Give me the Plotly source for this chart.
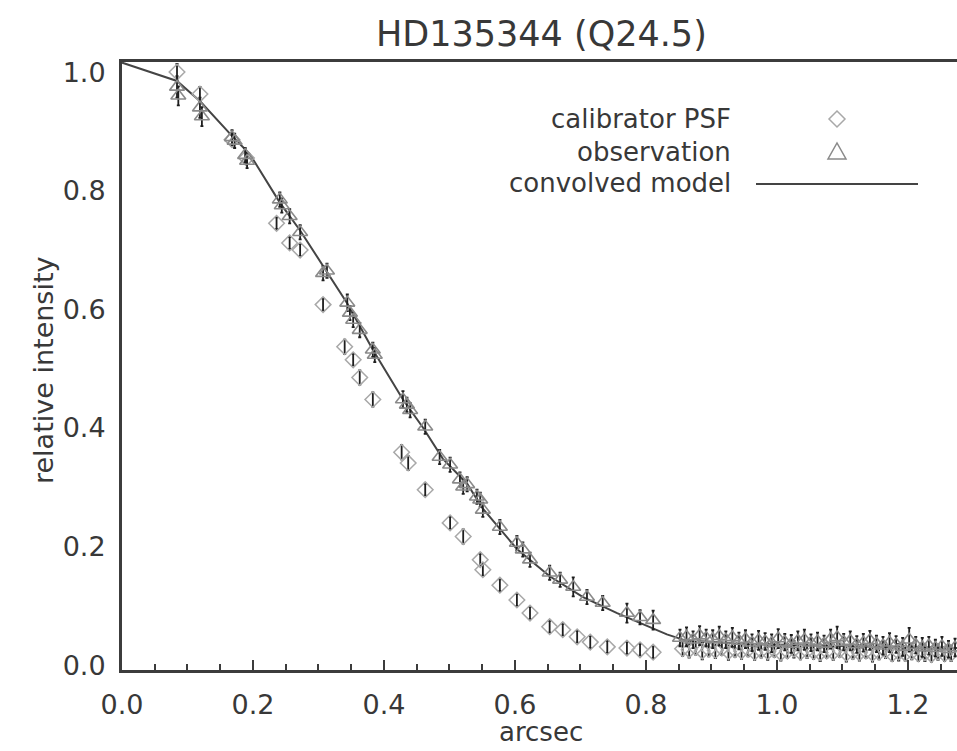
import plotly.graph_objects as go

# ---------------- data ----------------
model_x = [0.0, 0.084, 0.12, 0.17, 0.195, 0.241, 0.272, 0.313, 0.344, 0.383, 0.429,
           0.46, 0.49, 0.527, 0.551, 0.603, 0.653, 0.704, 0.756, 0.832, 0.86, 0.95,
           1.05, 1.15, 1.275]
model_y = [1.016, 0.985, 0.950, 0.890, 0.862, 0.780, 0.733, 0.662, 0.610, 0.532, 0.448,
           0.400, 0.348, 0.306, 0.264, 0.196, 0.150, 0.115, 0.088, 0.052, 0.042, 0.036,
           0.033, 0.031, 0.029]

obs_x = [0.084, 0.086, 0.119, 0.122, 0.168, 0.172, 0.188, 0.191, 0.241, 0.244, 0.256,
         0.272, 0.307, 0.313, 0.344, 0.348, 0.353, 0.363, 0.383, 0.386, 0.429, 0.435,
         0.44, 0.463, 0.485, 0.501, 0.516, 0.521, 0.527, 0.542, 0.547, 0.551, 0.577,
         0.603, 0.612, 0.623, 0.653, 0.669, 0.689, 0.71, 0.734, 0.771, 0.791, 0.811,
         0.852, 0.862, 0.872, 0.882, 0.892, 0.902, 0.912, 0.922, 0.932, 0.942, 0.952,
         0.962, 0.972, 0.982, 0.992, 1.002, 1.012, 1.022, 1.032, 1.042, 1.052, 1.062,
         1.072, 1.082, 1.092, 1.102, 1.112, 1.122, 1.132, 1.142, 1.152, 1.162, 1.172,
         1.182, 1.192, 1.202, 1.212, 1.222, 1.232, 1.242, 1.252, 1.262, 1.272]
obs_y = [0.975, 0.960, 0.940, 0.925, 0.890, 0.884, 0.860, 0.850, 0.785, 0.775, 0.757,
         0.730, 0.661, 0.665, 0.611, 0.594, 0.582, 0.565, 0.532, 0.523, 0.448, 0.439,
         0.430, 0.402, 0.351, 0.338, 0.313, 0.301, 0.305, 0.284, 0.279, 0.262, 0.233,
         0.206, 0.195, 0.178, 0.156, 0.144, 0.132, 0.115, 0.105, 0.088, 0.081, 0.076,
         0.046, 0.048, 0.043, 0.050, 0.046, 0.044, 0.049, 0.043, 0.047, 0.041, 0.044,
         0.038, 0.042, 0.040, 0.037, 0.045, 0.039, 0.036, 0.041, 0.043, 0.038, 0.040,
         0.036, 0.044, 0.047, 0.039, 0.041, 0.035, 0.038, 0.042, 0.036, 0.033, 0.038,
         0.035, 0.031, 0.043, 0.034, 0.030, 0.033, 0.029, 0.032, 0.027, 0.030]
obs_err = [0.018, 0.016, 0.017, 0.016, 0.012, 0.012, 0.012, 0.012, 0.012, 0.012, 0.012,
           0.012, 0.012, 0.012, 0.014, 0.012, 0.012, 0.012, 0.012, 0.012, 0.014, 0.012,
           0.012, 0.012, 0.012, 0.012, 0.012, 0.012, 0.012, 0.012, 0.012, 0.012, 0.012,
           0.012, 0.012, 0.012, 0.012, 0.012, 0.016, 0.012, 0.012, 0.016, 0.012, 0.016,
           0.014, 0.016, 0.014, 0.016, 0.014, 0.015, 0.016, 0.014, 0.016, 0.014, 0.015,
           0.014, 0.016, 0.014, 0.015, 0.016, 0.014, 0.015, 0.016, 0.017, 0.014, 0.015,
           0.014, 0.016, 0.018, 0.014, 0.016, 0.014, 0.015, 0.016, 0.014, 0.015, 0.016,
           0.014, 0.015, 0.020, 0.014, 0.016, 0.015, 0.014, 0.016, 0.014, 0.015]

cal_x = [0.084, 0.119, 0.168, 0.19, 0.236, 0.256, 0.272, 0.307, 0.34, 0.353, 0.363,
         0.383, 0.427, 0.437, 0.463, 0.501, 0.521, 0.547, 0.551, 0.577, 0.603, 0.623,
         0.653, 0.673, 0.695, 0.715, 0.741, 0.771, 0.791, 0.811,
         0.856, 0.866, 0.876, 0.886, 0.896, 0.906, 0.916, 0.926, 0.936, 0.946, 0.956,
         0.966, 0.976, 0.986, 0.996, 1.006, 1.016, 1.026, 1.036, 1.046, 1.056, 1.066,
         1.076, 1.086, 1.096, 1.106, 1.116, 1.126, 1.136, 1.146, 1.156, 1.166, 1.176,
         1.186, 1.196, 1.206, 1.216, 1.226, 1.236, 1.246, 1.256, 1.266]
cal_y = [1.000, 0.963, 0.886, 0.855, 0.745, 0.712, 0.700, 0.608, 0.537, 0.515, 0.485,
         0.448, 0.359, 0.341, 0.296, 0.240, 0.217, 0.178, 0.161, 0.135, 0.110, 0.088,
         0.065, 0.060, 0.048, 0.039, 0.031, 0.029, 0.026, 0.022,
         0.028, 0.026, 0.030, 0.024, 0.027, 0.025, 0.029, 0.023, 0.026, 0.024, 0.027,
         0.022, 0.025, 0.023, 0.026, 0.021, 0.024, 0.027, 0.022, 0.025, 0.023, 0.021,
         0.024, 0.022, 0.026, 0.020, 0.023, 0.021, 0.024, 0.020, 0.022, 0.025, 0.019,
         0.022, 0.020, 0.023, 0.019, 0.021, 0.018, 0.022, 0.019, 0.020]
cal_err = [0.014, 0.012, 0.010, 0.010, 0.010, 0.010, 0.010, 0.010, 0.012, 0.010, 0.012,
           0.012, 0.012, 0.012, 0.010, 0.010, 0.012, 0.010, 0.010, 0.010, 0.010, 0.010,
           0.010, 0.010, 0.010, 0.010, 0.010, 0.010, 0.010, 0.010,
           0.012, 0.013, 0.012, 0.014, 0.012, 0.013, 0.012, 0.014, 0.012, 0.013, 0.012,
           0.013, 0.012, 0.014, 0.012, 0.013, 0.012, 0.014, 0.012, 0.013, 0.012, 0.014,
           0.012, 0.013, 0.012, 0.014, 0.012, 0.013, 0.012, 0.014, 0.012, 0.013, 0.012,
           0.014, 0.012, 0.013, 0.012, 0.014, 0.012, 0.013, 0.012, 0.013]

x_ticks = [0.0, 0.2, 0.4, 0.6, 0.8, 1.0, 1.2]
y_ticks = [0.0, 0.2, 0.4, 0.6, 0.8, 1.0]
title_text = "HD135344 (Q24.5)"
legend_labels = ["calibrator PSF", "observation", "convolved model"]

# ---------------- styling ----------------
FONT = "DejaVu Sans"
TXT = "#383838"
AX = "#3c3c3c"
SYM = "#a8a8a8"
BAR = "#1e1e1e"

fig = go.Figure()

fig.add_trace(go.Scatter(
    x=model_x, y=model_y, mode="lines",
    line=dict(color="#444444", width=2), showlegend=False, hoverinfo="skip"))

fig.add_trace(go.Scatter(
    x=cal_x, y=cal_y, mode="markers",
    marker=dict(symbol="diamond-open", size=12, color=SYM, line=dict(width=1.5, color=SYM)),
    error_y=dict(type="data", array=cal_err, visible=True, color=BAR, thickness=1.8, width=1.5),
    showlegend=False))

fig.add_trace(go.Scatter(
    x=obs_x, y=obs_y, mode="markers",
    marker=dict(symbol="triangle-up-open", size=13, color="#8a8a8a", line=dict(width=1.6, color="#8a8a8a")),
    error_y=dict(type="data", array=obs_err, visible=True, color=BAR, thickness=1.8, width=1.5),
    showlegend=False))

# legend (custom, right-aligned text with symbols to the right)
L, R, T, B = 122, 957, 62, 670
def px(xp):
    return (xp - L) / (R - L)
def py(yp):
    return (B - yp) / (B - T)

rows_y = [119, 152, 183]
annotations = []
for lab, yy in zip(legend_labels, rows_y):
    annotations.append(dict(text=lab, xref="paper", yref="paper", x=px(733), y=py(yy),
                            xanchor="right", yanchor="middle", showarrow=False,
                            font=dict(family=FONT, size=26, color=TXT)))

shapes = [
    dict(type="path", xref="paper", yref="paper", xsizemode="pixel", ysizemode="pixel",
         xanchor=px(837), yanchor=py(rows_y[0]),
         path="M0,8 L8,0 L0,-8 L-8,0 Z", line=dict(color=SYM, width=1.5)),
    dict(type="path", xref="paper", yref="paper", xsizemode="pixel", ysizemode="pixel",
         xanchor=px(837), yanchor=py(rows_y[1]),
         path="M-9,-7 L9,-7 L0,9 Z", line=dict(color="#8a8a8a", width=1.5)),
    dict(type="line", xref="paper", yref="paper", x0=px(756), x1=px(918),
         y0=py(rows_y[2] + 1), y1=py(rows_y[2] + 1), line=dict(color="#444444", width=2)),
]

annotations.append(dict(text="arcsec", xref="paper", yref="paper", x=px(541), y=py(732),
                        xanchor="center", yanchor="middle", showarrow=False,
                        font=dict(family=FONT, size=26, color=TXT)))
annotations.append(dict(text="relative intensity", xref="paper", yref="paper", x=px(43), y=py(370),
                        xanchor="center", yanchor="middle", showarrow=False, textangle=-90,
                        font=dict(family=FONT, size=27, color=TXT)))
annotations.append(dict(text=title_text, xref="paper", yref="paper", x=px(541), y=py(34),
                        xanchor="center", yanchor="middle", showarrow=False,
                        font=dict(family=FONT, size=35, color=TXT)))

fig.update_layout(
    width=957, height=751,
    margin=dict(l=L, r=0, t=T, b=751 - B),
    paper_bgcolor="white", plot_bgcolor="white",
    showlegend=False,
    annotations=annotations, shapes=shapes,
    xaxis=dict(range=[0, 1.275], tickvals=x_ticks, ticktext=[f"{v:.1f}" for v in x_ticks],
               ticks="inside", ticklen=10, tickwidth=2, tickcolor=AX,
               minor=dict(tickvals=[0.05, 0.1, 0.15, 0.25, 0.3, 0.35, 0.45, 0.5, 0.55, 0.65,
                                    0.7, 0.75, 0.85, 0.9, 0.95, 1.05, 1.1, 1.15, 1.25],
                          ticks="inside", ticklen=6, tickwidth=2, tickcolor=AX),
               showline=True, linecolor=AX, linewidth=3, mirror=True,
               showgrid=False, zeroline=False, ticklabelstandoff=9,
               tickfont=dict(family=FONT, size=27, color=TXT)),
    yaxis=dict(range=[-0.008, 1.017], tickvals=y_ticks, ticktext=[f"{v:.1f}" for v in y_ticks],
               ticks="", showline=True, linecolor=AX, linewidth=3, mirror=False,
               showgrid=False, zeroline=False, ticklabelstandoff=8,
               tickfont=dict(family=FONT, size=27, color=TXT)),
)

fig.write_html("out.html")
